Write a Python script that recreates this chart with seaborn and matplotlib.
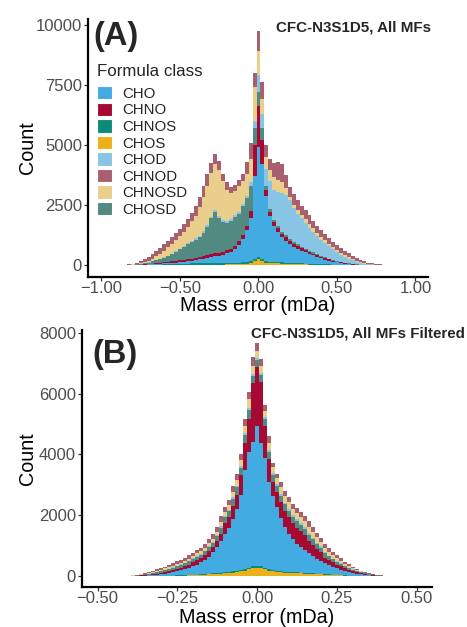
import numpy as np
import pandas as pd
import matplotlib
matplotlib.use("Agg")
import matplotlib.pyplot as plt
import seaborn as sns
from matplotlib.patches import Patch

# ---------------- data ----------------
classes = ["CHO", "CHNO", "CHNOS", "CHOS", "CHOD", "CHNOD", "CHNOSD", "CHOSD"]
class_colors = ["#42ACE2", "#A60A32", "#0A8C78", "#ECB018",
                "#88C4E4", "#A86070", "#EACE8C", "#508A80"]
# stacking order, top layer first (seaborn puts the first hue level on top)
stack_order = ["CHNOD", "CHNOSD", "CHOD", "CHOSD", "CHNO", "CHO", "CHNOS", "CHOS"]

binwidth_a = 0.025
binwidth_b = 0.0125
bin_index = np.arange(-36, 37)

# Panel A: counts per bin (bins centred on -0.9 ... 0.9, step 0.025)
chos_a = [0,0,0,1,1,2,2,3,3,4,5,6, 8,9,10,11,12,13,15,16,18,19,21,23, 25,27,29,31,35,37,40,45,50,60,90,180,
          250,
          180,110,90,80,75,70,60,55,50,45,40,35, 30,25,20,16,14,12,10,8,7,6,5,4, 3,3,2,2,1,1,1,0,0,0,0,0]
chnos_a = [1,1,2,3,4,5,7,9,12,15,18,22, 28,32,38,44,50,54,58,62,65,67,69,70, 70,70,70,70,70,70,70,70,70,70,75,90,
           110,
           90,70,60,55,50,48,46,44,42,40,38,36, 34,32,30,28,26,24,22,20,18,16,14,12, 10,8,6,5,4,3,2,2,1,1,0,0]
cho_a = [1,2,2,2,5,7,11,15,20,26,32,37, 42,49,54,60,68,78,89,104,122,164,190,217,
         245,273,301,339,385,453,570,735,980,1320,1785,3430,
         4540,
         3930,2720,1900,1515,1255,1052,914,781,688,605,532,469, 406,353,300,246,200,159,123,92,65,43,26,16,
         9,4,2,1,1,1,1,0,0,0,0,0]
chno_a = [1,1,2,3,5,8,10,15,20,27,35,42, 50,58,66,74,80,86,92,98,104,108,112,116,
          120,122,124,126,130,135,140,150,160,180,300,1300,
          1700,
          1000,250,170,160,155,150,140,130,120,110,100,92, 85,78,70,62,55,48,40,34,28,22,17,13,
          10,7,5,3,2,1,1,0,0,0,0,0]
chosd_a = [1,2,3,5,10,16,25,38,60,88,120,158, 192,232,292,371,450,549,626,700,761,812,958,1174,
           1490,1728,1426,1234,1150,1155,1180,1130,1190,1150,1050,700,
           600,
           500,150,100,90,85,80,78,75,72,70,66,62, 58,54,50,45,40,35,30,26,22,18,14,11,
           8,6,4,3,2,1,1,1,0,0,0,0]
chod_a = [0,0,0,0,1,2,3,5,5,8,10,12, 15,17,20,22,25,30,35,40,45,50,55,65,
          75,90,80,70,60,60,70,80,100,120,150,300,
          700,
          600,700,1180,1250,1430,1590,1692,1615,1428,1280,1174,1066, 957,848,750,663,585,512,435,360,300,245,194,144,
          105,72,51,35,23,16,10,7,4,2,1,1]
chnosd_a = [1,2,3,6,9,15,27,45,70,112,150,193, 265,343,420,478,535,590,685,800,935,1200,1445,1635,
            1825,1920,1920,1630,1320,1090,1030,1090,950,900,950,1400,
            1000,
            600,500,450,500,500,460,300,150,120,130,150,160, 160,150,140,130,120,105,95,85,75,65,55,45,
            38,30,22,16,11,7,5,3,2,1,1,0]
chnod_a = [5,7,13,20,35,55,85,120,160,180,210,250, 270,280,280,280,280,300,330,360,400,430,450,480,
           400,390,400,300,300,250,250,250,300,500,700,600,
           850,
           700,500,450,600,750,750,520,400,430,420,380,360, 350,310,290,280,260,245,225,215,195,185,165,145,
           117,90,68,46,32,22,14,10,7,5,3,3]

# Panel B: counts per bin (bins centred on -0.45 ... 0.45, step 0.0125)
chos_b = [0,0,0,0,0,0,1,1,1,2,2,3,5, 6,8,10,14,17,21,26,30,35,41,47,56,64,72,81,91,102,116,134,
          157,186,221,256,279,256,221,186,157,
          140,128,116,110,105,99,93,87,81,73, 66,58,51,44,37,29,23,17,13,9, 7,5,3,2,1,1,0,0,0,0,0,0]
chnos_b = [0,0,0,0,1,1,1,2,2,3,3,5,6, 7,8,9,10,12,13,14,16,19,21,23,26,28,30,33,35,37,40,42,
           47,52,58,64,70,64,58,52,47,
           42,40,37,35,33,30,28,26,23,21, 19,16,14,13,12,10,9,8,7,6, 5,3,3,2,2,1,1,1,0,0,0,0]
cho_b = [1,1,2,3,3,6,8,12,17,23,33,42,55, 71,88,110,133,163,199,240,285,330,392,465,558,687,851,1037,1270,1442,1728,2034,
         2471,3251,3791,4100,4594,4071,3605,2844,2419,
         2086,1751,1475,1250,1084,941,833,736,651,569, 485,426,365,315,265,222,183,149,120,92,
         70,52,37,27,19,13,8,5,3,2,1,1]
chno_b = [1,1,1,2,3,6,8,12,16,22,27,34,50, 58,67,76,83,88,93,102,128,143,143,154,174,178,202,248,349,368,433,465,
          640,872,1105,1919,1919,1977,1047,756,488,
          498,523,523,540,523,529,523,508,398,358, 322,287,183,158,138,123,109,87,74,60,
          48,36,26,17,12,7,5,3,2,1,1,1]
chosd_b = [1,1,2,3,5,7,10,15,21,28,34,43,51, 58,67,74,83,88,93,102,102,114,114,123,140,142,162,198,184,193,227,244,
           256,267,291,233,233,233,233,233,209,
           199,209,209,215,209,212,209,204,209,188, 170,151,138,120,105,93,84,66,56,45,
           36,28,20,14,9,6,3,2,1,1,1,0]
chod_b = [0,0,0,1,1,1,2,3,5,6,7,8,10, 12,14,15,16,17,19,21,26,29,29,30,35,36,41,50,44,47,55,58,
          58,70,70,81,81,70,70,70,58,
          56,58,58,60,58,58,58,56,52,47, 43,38,31,28,24,21,19,15,13,10,
          8,6,5,3,2,1,1,0,0,0,0,0]
chnosd_b = [0,1,2,2,3,6,8,12,16,22,28,35,36, 42,48,53,60,64,67,73,67,77,77,81,93,95,108,133,140,147,173,186,
            198,244,279,267,209,233,209,233,198,
            199,209,209,215,209,212,209,204,209,188, 170,151,137,120,105,93,83,66,56,45,
            35,28,20,13,9,6,3,2,1,1,0,0]
chnod_b = [1,2,2,3,6,8,13,19,26,33,41,51,55, 60,71,81,90,97,100,108,101,114,114,123,140,142,162,198,156,165,194,209,
           186,233,233,267,291,238,198,221,145,
           154,163,163,167,163,164,163,157,178,160, 144,128,138,121,105,94,84,67,57,45,
           36,28,20,14,9,6,3,2,2,1,1,1]

xticks_a = [-1.0, -0.5, 0.0, 0.5, 1.0]
yticks_a = [0, 2500, 5000, 7500, 10000]
xticks_b = [-0.5, -0.25, 0.0, 0.25, 0.5]
yticks_b = [0, 2000, 4000, 6000, 8000]

title_a = "CFC-N3S1D5, All MFs"
title_b = "CFC-N3S1D5, All MFs Filtered"
legend_title = "Formula class"
xlab = "Mass error (mDa)"
ylab = "Count"

counts_a = dict(zip(classes, [cho_a, chno_a, chnos_a, chos_a, chod_a, chnod_a, chnosd_a, chosd_a]))
counts_b = dict(zip(classes, [cho_b, chno_b, chnos_b, chos_b, chod_b, chnod_b, chnosd_b, chosd_b]))
palette = dict(zip(classes, class_colors))


def make_df(centers, counts):
    parts = []
    for cls, vals in counts.items():
        assert len(vals) == len(centers), (cls, len(vals))
        parts.append(pd.DataFrame({"err": centers, "n": vals, "cls": cls}))
    return pd.concat(parts, ignore_index=True)


centers_a = bin_index * binwidth_a
centers_b = bin_index * binwidth_b
edges_a = [float(v) for v in np.append(centers_a - binwidth_a / 2, centers_a[-1] + binwidth_a / 2)]
edges_b = [float(v) for v in np.append(centers_b - binwidth_b / 2, centers_b[-1] + binwidth_b / 2)]
df_a = make_df(centers_a, counts_a)
df_b = make_df(centers_b, counts_b)

# ---------------- style ----------------
sns.set_style("white")
plt.rcParams["font.family"] = ["Liberation Sans", "DejaVu Sans"]
plt.rcParams["axes.unicode_minus"] = True

W, H = 467, 627
fig = plt.figure(figsize=(W / 100, H / 100), dpi=100)


def px_axes(left, top, right, bottom):
    return fig.add_axes([left / W, 1 - bottom / H, (right - left) / W, (bottom - top) / H])


ax_a = px_axes(88, 19, 428, 277)
ax_b = px_axes(82, 330, 432, 587)


def draw(ax, df, edges, xlim, ylim, xticks, yticks):
    sns.histplot(data=df, x="err", weights="n", hue="cls", hue_order=stack_order,
                 multiple="stack", bins=edges, element="step", fill=True,
                 alpha=1, linewidth=0, palette=palette, legend=False, ax=ax)
    ax.set_xlim(*xlim)
    ax.set_ylim(*ylim)
    ax.set_xticks(xticks)
    ax.set_xticklabels([f"{v:.2f}".replace("-", "\u2212") for v in xticks])
    ax.set_yticks(yticks)
    ax.set_yticklabels([str(v) for v in yticks])
    for s in ["top", "right"]:
        ax.spines[s].set_visible(False)
    for s in ["left", "bottom"]:
        ax.spines[s].set_color("black")
        ax.spines[s].set_linewidth(1.6)
    ax.tick_params(axis="both", which="major", length=2.75, width=0.9, color="#333333",
                   labelsize=12, labelcolor="#4D4D4D", direction="out",
                   bottom=True, left=True)
    ax.tick_params(axis="x", pad=0.4)
    ax.tick_params(axis="y", pad=1.5)
    ax.set_xlabel(xlab, fontsize=14.2, color="black")
    ax.set_ylabel(ylab, fontsize=14.2, color="black")
    ax.set_facecolor("white")


draw(ax_a, df_a, edges_a, (-1.086, 1.08), (-487, 10237), xticks_a, yticks_a)
draw(ax_b, df_b, edges_b, (-0.5487, 0.5478), (-355, 8090), xticks_b, yticks_b)

ax_a.xaxis.set_label_coords(0.5, -0.0736)
ax_b.xaxis.set_label_coords(0.5, -0.0817)
ax_a.yaxis.set_label_coords((37 - 88) / 340, 0.5)
ax_b.yaxis.set_label_coords((37 - 82) / 350, 0.5)

# tags and titles
fig.text(93 / W, 1 - 45 / H, "(A)", fontsize=23.5, fontweight="bold", ha="left", va="baseline")
fig.text(92 / W, 1 - 363 / H, "(B)", fontsize=23.5, fontweight="bold", ha="left", va="baseline")
fig.text(276 / W, 1 - 31.5 / H, title_a, fontsize=10.9, fontweight="bold", ha="left", va="baseline")
fig.text(251.5 / W, 1 - 337.5 / H, title_b, fontsize=10.9, fontweight="bold", ha="left", va="baseline")

# legend
fig.text(97 / W, 1 - 76 / H, legend_title, fontsize=12.2, ha="left", va="baseline")
handles = [Patch(facecolor=palette[c], edgecolor="white", linewidth=0.8, label=c) for c in classes]
leg = ax_a.legend(handles=handles, loc="upper left",
                  bbox_to_anchor=(97 / W, 1 - 86 / H), bbox_transform=fig.transFigure,
                  frameon=False, fontsize=10.8,
                  handlelength=1.0, handleheight=1.0, handletextpad=0.67,
                  labelspacing=0.115, borderpad=0, borderaxespad=0)

fig.savefig("out.png", dpi=100, facecolor="white")
